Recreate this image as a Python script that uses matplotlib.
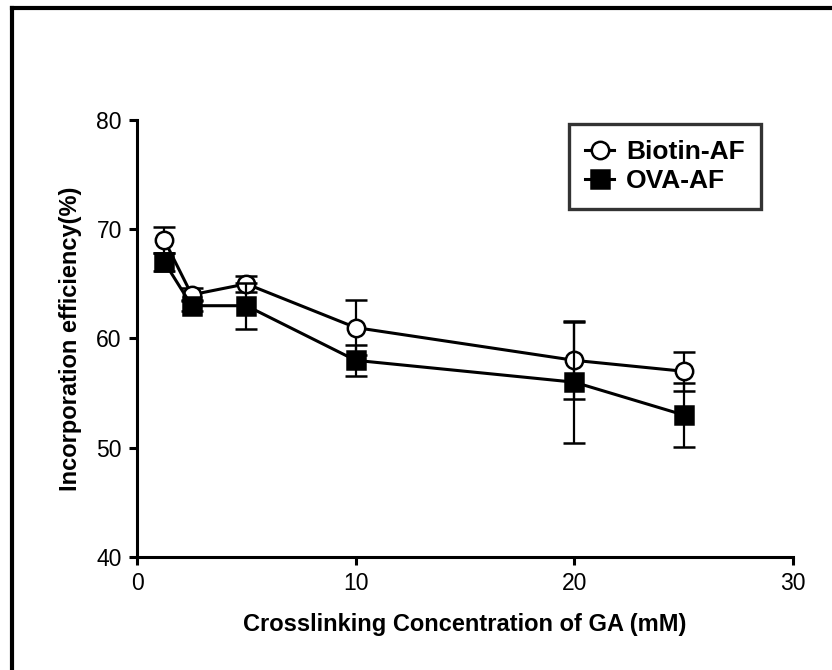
import matplotlib.pyplot as plt
from matplotlib.lines import Line2D

plt.rcParams['font.family'] = ['Liberation Sans', 'DejaVu Sans']

# GA crosslinker concentration (mM)
conc = [1.25, 2.5, 5, 10, 20, 25]

# incorporation efficiency (%) mean and SD
biotin_mean = [69, 64, 65, 61, 58, 57]
biotin_sd = [1.2, 0.6, 0.7, 2.5, 3.5, 1.8]
ova_mean = [67, 63, 63, 58, 56, 53]
ova_sd = [0.8, 0.5, 2.1, 1.4, 5.6, 2.9]

x_ticks = [0, 10, 20, 30]
y_ticks = [40, 50, 60, 70, 80]

fig = plt.figure(figsize=(8.32, 6.70), dpi=100)
ax = fig.add_axes([0.1647, 0.1687, 0.7883, 0.6522])

# open frame along top and left of the panel
fig.add_artist(Line2D([12 / 832, 1], [1 - 8 / 670] * 2, transform=fig.transFigure,
                      color='black', lw=3))
fig.add_artist(Line2D([12 / 832] * 2, [0, 1 - 8 / 670], transform=fig.transFigure,
                      color='black', lw=3))

ms = 12.5
ax.errorbar(conc, biotin_mean, yerr=biotin_sd, color='black', lw=2.2,
            marker='o', markersize=ms, markerfacecolor='white', markeredgewidth=1.8,
            elinewidth=1.6, capsize=8, capthick=1.6, zorder=3)
ax.errorbar(conc, ova_mean, yerr=ova_sd, color='black', lw=2.2,
            marker='s', markersize=ms, markerfacecolor='black', markeredgewidth=1.8,
            elinewidth=1.6, capsize=8, capthick=1.6, zorder=4)

ax.set_xlim(0, 30)
ax.set_ylim(40, 80)
ax.set_xticks(x_ticks)
ax.set_yticks(y_ticks)
ax.spines['top'].set_visible(False)
ax.spines['right'].set_visible(False)
for s in ('left', 'bottom'):
    ax.spines[s].set_linewidth(2.2)
ax.tick_params(width=2.2, length=6, labelsize=16.5, pad=5)

ax.set_xlabel('Crosslinking Concentration of GA (mM)', fontsize=17, fontweight='bold',
              labelpad=13)
ax.set_ylabel('Incorporation efficiency(%)', fontsize=17, fontweight='bold', labelpad=10)

handles = [
    Line2D([], [], color='black', lw=2.2, marker='o', markersize=ms,
           markerfacecolor='white', markeredgewidth=1.8),
    Line2D([], [], color='black', lw=2.2, marker='s', markersize=ms,
           markerfacecolor='black', markeredgewidth=1.8),
]
leg = ax.legend(handles, ['Biotin-AF', 'OVA-AF'], loc='upper right',
                bbox_to_anchor=(0.951, 0.991), prop={'weight': 'bold', 'size': 19},
                frameon=True, fancybox=False, edgecolor='black', handlelength=1.1,
                handletextpad=0.45, borderpad=0.6, labelspacing=0.2, borderaxespad=0)
leg.get_frame().set_linewidth(2.4)

fig.savefig('out.png', dpi=100)
